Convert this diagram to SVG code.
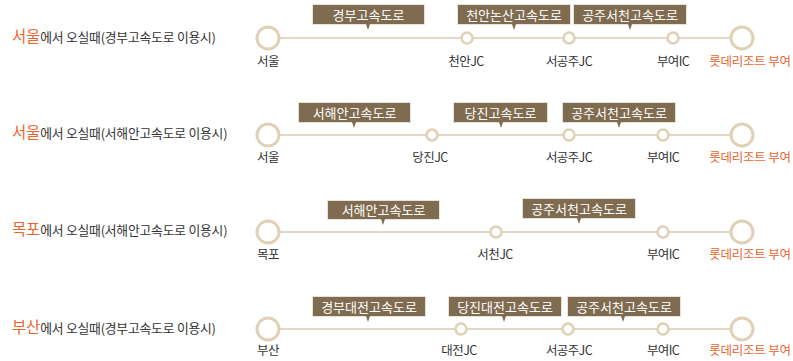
<svg xmlns="http://www.w3.org/2000/svg" width="793" height="361" viewBox="0 0 793 361">
<style>
text{font-family:"Noto Sans CJK KR","Noto Sans",sans-serif;}
.ttl{font-size:12.8px;fill:#333;letter-spacing:-0.2px;}
.hl{font-size:15.5px;fill:#e8662f;}
.lbl{font-size:12.5px;fill:#333;text-anchor:middle;letter-spacing:-0.6px;}
.dst{font-size:12.5px;fill:#e8662f;text-anchor:middle;letter-spacing:-0.2px;}
.line{stroke:#e3d8c6;stroke-width:2;fill:none;}
.big{fill:#fff;stroke:#dfd0b6;stroke-width:3;}
.sm{fill:#fff;stroke:#dfd0b6;stroke-width:2.5;}
.box{fill:#7f6b4f;stroke:#e9e2d6;stroke-width:1;}
.ptr{fill:#7f6b4f;}
.bt{font-size:13px;fill:#fff;text-anchor:middle;}
</style>

<g id="title1"><text x="12" y="42" class="ttl"><tspan class="hl">서울</tspan>에서 오실때(경부고속도로 이용시)</text></g>
<g id="title2"><text x="12" y="138" class="ttl"><tspan class="hl">서울</tspan>에서 오실때(서해안고속도로 이용시)</text></g>
<g id="title3"><text x="12" y="235" class="ttl"><tspan class="hl">목포</tspan>에서 오실때(서해안고속도로 이용시)</text></g>
<g id="title4"><text x="12" y="333" class="ttl"><tspan class="hl">부산</tspan>에서 오실때(경부고속도로 이용시)</text></g>

<g id="connectors">
<line class="line" x1="268" y1="38" x2="742" y2="38"/>
<line class="line" x1="268" y1="135" x2="742" y2="135"/>
<line class="line" x1="268" y1="232" x2="742" y2="232"/>
<line class="line" x1="268" y1="329" x2="742" y2="329"/>
</g>

<!-- Row 1 -->
<g id="r1-seoul"><circle class="big" cx="268" cy="38" r="11"/><text class="lbl" x="268" y="66">서울</text></g>
<g id="r1-cheonan"><circle class="sm" cx="467" cy="38" r="5.5"/><text class="lbl" x="466" y="66">천안JC</text></g>
<g id="r1-seogongju"><circle class="sm" cx="569" cy="38" r="5.5"/><text class="lbl" x="569" y="66">서공주JC</text></g>
<g id="r1-buyeo"><circle class="sm" cx="673" cy="38" r="5.5"/><text class="lbl" x="673" y="66">부여IC</text></g>
<g id="r1-resort"><circle class="big" cx="742" cy="38" r="11"/><text class="dst" x="750" y="66">롯데리조트 부여</text></g>
<g id="r1-b1"><rect class="box" x="312.5" y="4.5" width="112" height="20"/><path class="ptr" d="M366 24 L370 24 L368 30 Z"/><text class="bt" x="368.5" y="19.5">경부고속도로</text></g>
<g id="r1-b2"><rect class="box" x="457.5" y="4.5" width="113" height="20"/><path class="ptr" d="M512 24 L516 24 L514 30 Z"/><text class="bt" x="514" y="19.5">천안논산고속도로</text></g>
<g id="r1-b3"><rect class="box" x="573.5" y="4.5" width="113" height="20"/><path class="ptr" d="M628 24 L632 24 L630 30 Z"/><text class="bt" x="630" y="19.5">공주서천고속도로</text></g>

<!-- Row 2 -->
<g id="r2-seoul"><circle class="big" cx="268" cy="135" r="11"/><text class="lbl" x="268" y="162">서울</text></g>
<g id="r2-dangjin"><circle class="sm" cx="432" cy="135" r="5.5"/><text class="lbl" x="430" y="162">당진JC</text></g>
<g id="r2-seogongju"><circle class="sm" cx="569" cy="135" r="5.5"/><text class="lbl" x="569" y="162">서공주JC</text></g>
<g id="r2-buyeo"><circle class="sm" cx="663" cy="135" r="5.5"/><text class="lbl" x="663" y="162">부여IC</text></g>
<g id="r2-resort"><circle class="big" cx="742" cy="135" r="11"/><text class="dst" x="750" y="162">롯데리조트 부여</text></g>
<g id="r2-b1"><rect class="box" x="298.5" y="102.5" width="112" height="20"/><path class="ptr" d="M352 122 L356 122 L354 128 Z"/><text class="bt" x="354.5" y="117.5">서해안고속도로</text></g>
<g id="r2-b2"><rect class="box" x="453.5" y="102.5" width="94" height="20"/><path class="ptr" d="M499 122 L503 122 L501 128 Z"/><text class="bt" x="500.5" y="117.5">당진고속도로</text></g>
<g id="r2-b3"><rect class="box" x="562.5" y="102.5" width="113" height="20"/><path class="ptr" d="M617 122 L621 122 L619 128 Z"/><text class="bt" x="619" y="117.5">공주서천고속도로</text></g>

<!-- Row 3 -->
<g id="r3-mokpo"><circle class="big" cx="268" cy="232" r="11"/><text class="lbl" x="268" y="259">목포</text></g>
<g id="r3-seocheon"><circle class="sm" cx="496" cy="232" r="5.5"/><text class="lbl" x="495" y="259">서천JC</text></g>
<g id="r3-buyeo"><circle class="sm" cx="663" cy="232" r="5.5"/><text class="lbl" x="663" y="259">부여IC</text></g>
<g id="r3-resort"><circle class="big" cx="742" cy="232" r="11"/><text class="dst" x="750" y="259">롯데리조트 부여</text></g>
<g id="r3-b1"><rect class="box" x="327.5" y="200.5" width="112" height="19"/><path class="ptr" d="M381 219 L385 219 L383 225 Z"/><text class="bt" x="383.5" y="215">서해안고속도로</text></g>
<g id="r3-b2"><rect class="box" x="522.5" y="198.5" width="113" height="20"/><path class="ptr" d="M577 218 L581 218 L579 224 Z"/><text class="bt" x="579" y="213.5">공주서천고속도로</text></g>

<!-- Row 4 -->
<g id="r4-busan"><circle class="big" cx="268" cy="329" r="11"/><text class="lbl" x="268" y="355">부산</text></g>
<g id="r4-daejeon"><circle class="sm" cx="461" cy="329" r="5.5"/><text class="lbl" x="459" y="355">대전JC</text></g>
<g id="r4-seogongju"><circle class="sm" cx="568" cy="329" r="5.5"/><text class="lbl" x="569" y="355">서공주JC</text></g>
<g id="r4-buyeo"><circle class="sm" cx="663" cy="329" r="5.5"/><text class="lbl" x="663" y="355">부여IC</text></g>
<g id="r4-resort"><circle class="big" cx="742" cy="329" r="11"/><text class="dst" x="750" y="355">롯데리조트 부여</text></g>
<g id="r4-b1"><rect class="box" x="312.5" y="296.5" width="113" height="20"/><path class="ptr" d="M366 316 L370 316 L368 322 Z"/><text class="bt" x="369" y="311.5">경부대전고속도로</text></g>
<g id="r4-b2"><rect class="box" x="448.5" y="296.5" width="113" height="20"/><path class="ptr" d="M502 316 L506 316 L504 322 Z"/><text class="bt" x="505" y="311.5">당진대전고속도로</text></g>
<g id="r4-b3"><rect class="box" x="567.5" y="296.5" width="113" height="20"/><path class="ptr" d="M621 316 L625 316 L623 322 Z"/><text class="bt" x="624" y="311.5">공주서천고속도로</text></g>
</svg>
